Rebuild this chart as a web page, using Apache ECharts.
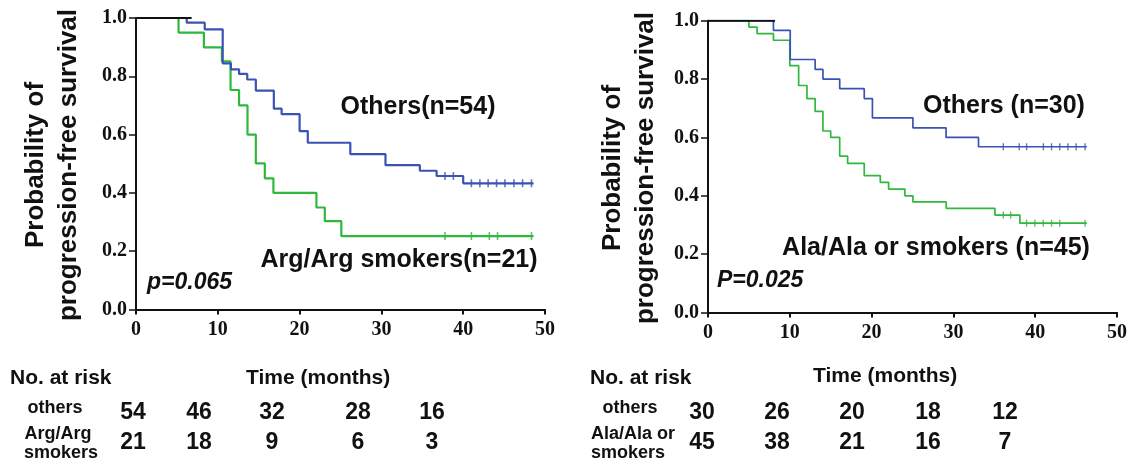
<!DOCTYPE html>
<html>
<head>
<meta charset="utf-8">
<style>html,body{margin:0;padding:0;background:#fff;}#c{width:1130px;height:467px;}</style>
<script src="https://cdn.jsdelivr.net/npm/echarts@6/dist/echarts.min.js"></script>
</head>
<body>
<div id="c"></div>
<script>
// ---------- DATA ----------
// Left panel: Others (n=54) vs Arg/Arg smokers (n=21)
var leftOthers = [[0,1],[6.2,0.984],[8.4,0.961],[10.6,0.844],[11.6,0.824],[12.6,0.808],[13.6,0.789],[14.65,0.751],[16.85,0.689],[17.8,0.670],[20.0,0.612],[21.0,0.572],[26.2,0.533],[30.5,0.495],[34.7,0.476],[36.75,0.458],[40.0,0.433],[48.6,0.433]];
var leftOthersCens = [[37.77,0.458],[38.8,0.458],[41.0,0.433],[42.04,0.433],[43.05,0.433],[44.08,0.433],[45.1,0.433],[46.2,0.433],[47.26,0.433],[48.35,0.433]];
var leftArg = [[0,1],[5.2,0.950],[8.3,0.899],[10.5,0.851],[11.56,0.753],[12.6,0.700],[13.63,0.600],[14.65,0.501],[15.75,0.450],[16.8,0.400],[22.06,0.350],[23.08,0.303],[25.1,0.252],[48.6,0.252]];
var leftArgCens = [[37.77,0.252],[41.0,0.252],[43.2,0.252],[44.2,0.252],[48.35,0.252]];
var leftShared = [[0,1],[6.8,1]];

// Right panel: Others (n=30) vs Ala/Ala or smokers (n=45)
var rightOthers = [[0,1],[8.0,0.967],[10.05,0.867],[13.1,0.833],[14.05,0.800],[16.1,0.767],[19.1,0.733],[20.1,0.667],[25.05,0.633],[29.1,0.600],[33.07,0.568],[46.3,0.568]];
var rightOthersCens = [[36.1,0.568],[38.05,0.568],[38.95,0.568],[41.0,0.568],[42.0,0.568],[43.0,0.568],[44.0,0.568],[45.0,0.568],[46.1,0.568]];
var rightAla = [[0,1],[5.0,0.978],[6.0,0.956],[8.0,0.933],[10.0,0.846],[11.08,0.778],[12.1,0.733],[13.1,0.689],[14.05,0.622],[15.0,0.600],[16.1,0.536],[17.07,0.511],[19.1,0.469],[21.06,0.446],[22.08,0.423],[24.07,0.400],[25.05,0.379],[29.12,0.357],[35.08,0.334],[38.13,0.306],[46.3,0.306]];
var rightAlaCens = [[36.1,0.334],[37.0,0.334],[38.95,0.306],[39.96,0.306],[40.98,0.306],[42.0,0.306],[43.0,0.306],[46.1,0.306]];
var rightShared = [[0,1],[8.2,1]];

var yTicks = [0, 0.2, 0.4, 0.6, 0.8, 1.0];
var xTicks = [0, 10, 20, 30, 40, 50];

var leftRiskOthers = [54, 46, 32, 28, 16];
var leftRiskArg = [21, 18, 9, 6, 3];
var rightRiskOthers = [30, 26, 20, 18, 12];
var rightRiskAla = [45, 38, 21, 16, 7];

// ---------- LAYOUT / STYLE ----------
var BLUE = '#3b52b4', GREEN = '#2fb83c', INK = '#111';
var SANS = '"Liberation Sans", Arial, sans-serif';
var SERIF = '"Liberation Serif", "Times New Roman", serif';
var leftRiskX = [133, 199, 272, 358, 432];
var rightRiskX = [702, 777, 852, 928, 1005];

var chart = echarts.init(document.getElementById('c'), null, {renderer: 'canvas'});

function xAxisCfg(idx) {
  return {
    type: 'value', gridIndex: idx, min: 0, max: 50, interval: 10,
    axisLine: {show: true, onZero: false, lineStyle: {color: INK, width: 2}},
    axisTick: {show: true, length: 5, lineStyle: {color: INK, width: 2}},
    axisLabel: {color: INK, fontFamily: SERIF, fontWeight: 'bold', fontSize: 20, margin: 10},
    splitLine: {show: false}
  };
}
function yAxisCfg(idx) {
  return {
    type: 'value', gridIndex: idx, min: 0, max: 1, interval: 0.2,
    axisLine: {show: true, onZero: false, lineStyle: {color: INK, width: 2}},
    axisTick: {show: true, length: 7, lineStyle: {color: INK, width: 1.5}},
    axisLabel: {color: INK, fontFamily: SERIF, fontWeight: 'bold', fontSize: 20, margin: 9,
      formatter: function (v) { return v.toFixed(1); }},
    splitLine: {show: false}
  };
}
function stepSeries(data, color, idx, w) {
  return {type: 'line', step: 'end', data: data, xAxisIndex: idx, yAxisIndex: idx,
    symbol: 'none', lineStyle: {color: color, width: w}, silent: true, animation: false, z: 3};
}
function censSeries(data, color, idx, size) {
  return {type: 'scatter', data: data, xAxisIndex: idx, yAxisIndex: idx,
    symbol: 'rect', symbolSize: size, itemStyle: {color: color}, silent: true, animation: false, z: 4};
}
function txt(x, y, s, size, opts) {
  opts = opts || {};
  return {type: 'text', x: x, y: y, rotation: opts.rotation || 0, silent: true,
    style: {text: s, fill: INK, font: (opts.italic ? 'italic ' : '') + 'bold ' + size + 'px ' + SANS,
      align: opts.align || 'center', verticalAlign: 'middle', lineHeight: opts.lineHeight}};
}

var graphics = [];
// y-axis titles
graphics.push(txt(52, 165, 'Probability of\nprogression-free survival', 26, {rotation: Math.PI / 2, lineHeight: 33}));
graphics.push(txt(629, 168, 'Probability of\nprogression-free survival', 26, {rotation: Math.PI / 2, lineHeight: 33}));
// in-plot labels
graphics.push(txt(418, 107, 'Others(n=54)', 25));
graphics.push(txt(399, 260, 'Arg/Arg smokers(n=21)', 25));
graphics.push(txt(147, 283, 'p=0.065', 23, {italic: true, align: 'left'}));
graphics.push(txt(1004, 106, 'Others (n=30)', 25));
graphics.push(txt(936, 248, 'Ala/Ala or smokers (n=45)', 25));
graphics.push(txt(717, 281, 'P=0.025', 23, {italic: true, align: 'left'}));
// risk tables
graphics.push(txt(10, 378, 'No. at risk', 21, {align: 'left'}));
graphics.push(txt(246, 378, 'Time (months)', 21, {align: 'left'}));
graphics.push(txt(590, 378, 'No. at risk', 21, {align: 'left'}));
graphics.push(txt(813, 376, 'Time (months)', 21, {align: 'left'}));
graphics.push(txt(55, 408, 'others', 18));
graphics.push(txt(58, 434, 'Arg/Arg', 18));
graphics.push(txt(61, 453, 'smokers', 18));
graphics.push(txt(630, 408, 'others', 18));
graphics.push(txt(591, 434, 'Ala/Ala or', 18, {align: 'left'}));
graphics.push(txt(591, 453, 'smokers', 18, {align: 'left'}));
leftRiskOthers.forEach(function (v, i) { graphics.push(txt(leftRiskX[i], 413, String(v), 23)); });
leftRiskArg.forEach(function (v, i) { graphics.push(txt(leftRiskX[i], 443, String(v), 23)); });
rightRiskOthers.forEach(function (v, i) { graphics.push(txt(rightRiskX[i], 413, String(v), 23)); });
rightRiskAla.forEach(function (v, i) { graphics.push(txt(rightRiskX[i], 443, String(v), 23)); });

chart.setOption({
  animation: false,
  backgroundColor: '#fff',
  grid: [
    {left: 136, top: 18, width: 409, height: 291.5},
    {left: 708, top: 20.7, width: 409, height: 291.8}
  ],
  xAxis: [xAxisCfg(0), xAxisCfg(1)],
  yAxis: [yAxisCfg(0), yAxisCfg(1)],
  series: [
    stepSeries(leftArg, GREEN, 0, 2.2),
    stepSeries(leftOthers, BLUE, 0, 2.2),
    stepSeries(leftShared, INK, 0, 2),
    censSeries(leftOthersCens, BLUE, 0, [1.6, 8]),
    censSeries(leftArgCens, GREEN, 0, [1.6, 8]),
    stepSeries(rightAla, GREEN, 1, 1.7),
    stepSeries(rightOthers, BLUE, 1, 1.7),
    stepSeries(rightShared, INK, 1, 2),
    censSeries(rightOthersCens, BLUE, 1, [1.4, 7]),
    censSeries(rightAlaCens, GREEN, 1, [1.4, 7])
  ],
  graphic: graphics
});
</script>
</body>
</html>
